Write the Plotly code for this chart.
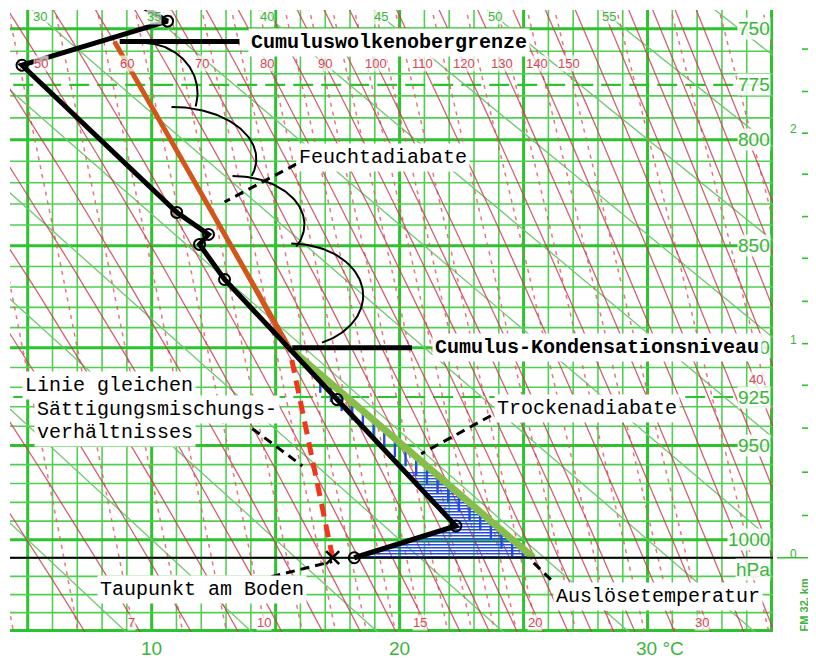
import numpy as np
import plotly.graph_objects as go

KAPPA = 0.286
P_TOP, P_BOT = 741.8, 1050.8
T_LEFT, T_RIGHT = 4.286, 35.06

# ---------------- data ----------------
sounding_T = [9.1, 10.64, 4.77, 11.01, 12.29, 11.93, 12.94, 15.55, 17.48, 22.27, 18.17]
sounding_p = [737.0, 746.7, 766.2, 834.0, 844.5, 849.3, 866.3, 900.0, 926.3, 992.6, 1009.8]
sounding_circle = [0, 1, 1, 1, 1, 1, 1, 0, 1, 1, 1]

ground_p = 1009.8
dewpoint_T = 17.3
ccl_T, ccl_p = 15.55, 900.0
cloudtop_T, cloudtop_p = 8.5, 755.7
trigger_T = 25.4

isotherms = list(range(5, 36))
isobars = list(range(750, 1051, 10))
isobars_dashed = [775, 925]
dry_adiabats = list(range(-5, 75, 5))                      # potential temperature, °C
moist_adiabats = list(range(20, 100, 5)) + list(range(100, 220, 10))  # theta_e, °C
mixing_ratios = [3, 4, 5, 6, 7, 8, 9, 10, 11, 12, 13, 14, 15, 16, 17, 18, 19, 20,
                 22, 24, 26, 28, 30, 35, 40, 45, 50, 55, 60]

p_labels = ["750", "775", "800", "850", "900", "925", "950", "1000"]
p_label_values = [750, 775, 800, 850, 900, 925, 950, 1000]
theta_labels = [30, 35, 40, 45, 50, 55]
thetae_labels = [50, 60, 70, 80, 90, 100, 110, 120, 130, 140, 150]
mix_labels_bottom = [7, 10, 15, 20, 30]
mix_label_right = 40
t_labels = ["10", "20", "30 °C"]
t_label_values = [10, 20, 30]

km_levels = [0, 0.2, 0.4, 0.6, 0.8, 1.0, 1.2, 1.4, 1.6, 1.8, 2.0, 2.2, 2.4, 2.6]
km_pressures = [1009.8, 987, 964, 941, 919, 898, 877, 856, 836, 816, 797, 778, 759, 741]
km_labelled = [0, 1, 2]


# ---------------- helpers ----------------
def Yv(p):
    return np.asarray(p, dtype=float) ** KAPPA


def es(T):
    return 6.112 * np.exp(17.67 * T / (T + 243.5))


def theta_e_sat(T, p):
    TK = T + 273.15
    e = es(T)
    r = 622.0 * e / (p - e)
    th = TK * (1000.0 / p) ** (0.2854 * (1 - 0.00028 * r))
    return th * np.exp((3.376 / TK - 0.00254) * r * (1 + 0.00081 * r))


def moist_T(thetae_C, p):
    target = thetae_C + 273.15
    p = np.asarray(p, dtype=float)
    lo = np.full_like(p, -40.0)
    hi = np.full_like(p, 48.0)
    for _ in range(45):
        mid = 0.5 * (lo + hi)
        f = theta_e_sat(mid, p) - target
        hi = np.where(f > 0, mid, hi)
        lo = np.where(f > 0, lo, mid)
    return 0.5 * (lo + hi)


def mixing_T(w, p):
    e = w * np.asarray(p, dtype=float) / (622.0 + w)
    L = np.log(e / 6.112)
    return 243.5 * L / (17.67 - L)


def dry_T(theta_C, p):
    return (theta_C + 273.15) * (np.asarray(p, dtype=float) / 1000.0) ** KAPPA - 273.15


def seg_trace(segments, color, width, dash=None, xaxis="x", opacity=1.0):
    xs, ys = [], []
    for x, y in segments:
        xs += list(x) + [None]
        ys += list(y) + [None]
    return go.Scatter(x=xs, y=ys, mode="lines", xaxis=xaxis, yaxis="y",
                      line=dict(color=color, width=width, dash=dash),
                      opacity=opacity, hoverinfo="skip", showlegend=False)


fig = go.Figure()
pg = np.linspace(725, 1065, 60)
Yfull = [Yv(725), Yv(1065)]

GREEN_THIN = "rgb(80,208,80)"
GREEN_THICK = "rgb(45,195,45)"
GREEN_TXT = "rgb(60,180,60)"
RED_SOLID = "rgb(200,60,80)"
RED_DASH = "rgb(228,95,110)"
RED_TXT = "rgb(215,70,85)"

# isotherms
thin_T = [t for t in isotherms if t % 5]
thick_T = [t for t in isotherms if t % 5 == 0]
fig.add_trace(seg_trace([([t, t], Yfull) for t in thin_T], GREEN_THIN, 1.6))
fig.add_trace(seg_trace([([t, t], Yfull) for t in thick_T], GREEN_THICK, 3))

# isobars
thin_p = [p for p in isobars if p % 50]
thick_p = [p for p in isobars if p % 50 == 0]
fig.add_trace(seg_trace([([T_LEFT - 1, T_RIGHT + 1], [Yv(p), Yv(p)]) for p in thin_p], GREEN_THIN, 1.6))
fig.add_trace(seg_trace([([T_LEFT - 1, T_RIGHT + 1], [Yv(p), Yv(p)]) for p in thick_p], GREEN_THICK, 3))
fig.add_trace(seg_trace([([T_LEFT - 1, T_RIGHT + 1], [Yv(p), Yv(p)]) for p in isobars_dashed],
                        GREEN_THICK, 2.2, dash="20px,8px"))

# dry adiabats
fig.add_trace(seg_trace([(dry_T(th, pg), Yv(pg)) for th in dry_adiabats], "rgb(110,200,110)", 1.3))

# mixing ratio lines
fig.add_trace(seg_trace([(mixing_T(w, pg), Yv(pg)) for w in mixing_ratios], RED_DASH, 1.5,
                        dash="4px,5px", opacity=0.85))

# moist adiabats
fig.add_trace(seg_trace([(moist_T(te, pg), Yv(pg)) for te in moist_adiabats], RED_SOLID, 1.3,
                        opacity=0.8))

# ---------------- hatching between sounding and dry adiabat ----------------
dYpx = (Yv(P_BOT) - Yv(P_TOP)) / 622.0
Yg0, Yg1 = float(Yv(ccl_p)), float(Yv(ground_p))


def green_Y(T):
    return Yg0 + (T - ccl_T) / (trigger_T - ccl_T) * (Yg1 - Yg0)


def green_T(Yq):
    return ccl_T + (Yq - Yg0) / (Yg1 - Yg0) * (trigger_T - ccl_T)


lowY = Yv(sounding_p[7:])
lowT = np.array(sounding_T[7:])

BLUE = "rgb(35,75,225)"
hsegs = []
Yq = Yg1 - 1.0 * dYpx
while Yq > Yg1 - 86 * dYpx:
    tl = float(np.interp(Yq, lowY, lowT))
    tr = green_T(Yq)
    if tr > tl:
        hsegs.append(([tl, tr], [Yq, Yq]))
    Yq -= 3.0 * dYpx
fig.add_trace(seg_trace(hsegs, BLUE, 1.3))

vsegs = []
for T in np.arange(16.8, trigger_T - 0.15, 0.43):
    y0 = green_Y(T) + 1.5 * dYpx
    y1 = min(y0 + 17 * dYpx, Yg1)
    if y1 > y0:
        vsegs.append(([T, T], [y0, y1]))
fig.add_trace(seg_trace(vsegs, BLUE, 2.4))

# ---------------- constructed lines ----------------
# saturation mixing ratio line from surface dew point to CCL
fig.add_trace(seg_trace([([dewpoint_T, ccl_T], [Yv(ground_p), Yv(ccl_p)])], "rgb(240,55,30)", 5,
                        dash="13px,8px"))
# dry adiabat from CCL down to ground
fig.add_trace(seg_trace([([ccl_T, trigger_T], [Yv(ccl_p), Yv(ground_p)])], "rgb(135,190,75)", 7))
# ground line
fig.add_trace(seg_trace([([T_LEFT - 1, T_RIGHT + 1], [Yv(ground_p), Yv(ground_p)])], "black", 2.2))
# moist adiabat in cloud (orange)
fig.add_trace(seg_trace([([ccl_T, cloudtop_T], [Yv(ccl_p), Yv(cloudtop_p)])], "rgb(210,85,25)", 5))

# sounding
fig.add_trace(go.Scatter(x=sounding_T, y=Yv(sounding_p), mode="lines",
                         line=dict(color="black", width=5), hoverinfo="skip", showlegend=False))
cT = [t for t, c in zip(sounding_T, sounding_circle) if c]
cP = [p for p, c in zip(sounding_p, sounding_circle) if c]
fig.add_trace(go.Scatter(x=cT, y=Yv(cP), mode="markers",
                         marker=dict(symbol="circle-open", size=11, color="black",
                                     line=dict(width=2, color="black")),
                         hoverinfo="skip", showlegend=False))
# dew point cross
fig.add_trace(go.Scatter(x=[dewpoint_T], y=Yv([ground_p]), mode="markers",
                         marker=dict(symbol="x-thin", size=13, line=dict(width=2.5, color="black")),
                         hoverinfo="skip", showlegend=False))

# cloud outline arcs (centre T, centre p, radius T, radius in y-units, end angle)
arcs = [(9.64, 778.7, 2.21, 0.056, 1.84),
        (10.8, 808.9, 3.42, 0.058, 1.90),
        (13.26, 839.7, 2.90, 0.054, 2.05),
        (15.63, 874.2, 2.90, 0.058, 2.70)]
arc_segs = []
for cx, cp, rx, ry, tend in arcs:
    t = np.linspace(0, tend, 60)
    arc_segs.append((cx + rx * np.sin(t), float(Yv(cp)) - ry * np.cos(t)))
fig.add_trace(seg_trace(arc_segs, "black", 2))

# black bars to the labels
fig.add_trace(seg_trace([([8.71, 13.54], [Yv(cloudtop_p), Yv(cloudtop_p)]),
                         ([15.67, 20.5], [Yv(ccl_p), Yv(ccl_p)])], "black", 5))

# dashed leader lines
leaders = [((15.83, 811.3), (12.94, 829.1)),
           ((14.06, 941.3), (16.08, 960.7)),
           ((23.68, 934.6), (20.87, 954.4)),
           ((14.83, 1020.1), (17.28, 1011.9)),
           ((25.41, 1012.6), (26.22, 1023.4))]
fig.add_trace(seg_trace([([a[0], b[0]], [Yv(a[1]), Yv(b[1])]) for a, b in leaders], "black", 3,
                        dash="9px,6px"))

# ---------------- km strip (second x axis) ----------------
km_segs = [([37, 37], [Yv(ground_p), Yv(730)])]
for h, p in zip(km_levels, km_pressures):
    x0 = 4 if h == 0 else 29
    km_segs.append(([x0, 37], [Yv(p), Yv(p)]))
fig.add_trace(seg_trace(km_segs, GREEN_THICK, 1.6, xaxis="x2"))

# ---------------- annotations ----------------
ann = []
MONO = "Liberation Mono"
SANS = "Liberation Sans"


def box(text, T, p, bold=False, xanchor="center", align="center"):
    if bold:
        text = "<b>" + text + "</b>"
    ann.append(dict(x=T, y=float(Yv(p)), xref="x", yref="y", text=text, showarrow=False,
                    xanchor=xanchor, yanchor="middle", align=align,
                    font=dict(family=MONO, size=20, color="black"),
                    bgcolor="white", borderpad=2))


# pressure labels (right side)
for txt, p in zip(p_labels, p_label_values):
    ann.append(dict(x=T_RIGHT, y=float(Yv(p)), xref="x", yref="y", text=txt, showarrow=False,
                    xanchor="right", yanchor="middle", xshift=-2,
                    font=dict(family=SANS, size=19, color=GREEN_TXT),
                    bgcolor="rgba(255,255,255,0.85)", borderpad=0))
ann.append(dict(x=T_RIGHT, y=float(Yv(1016)), xref="x", yref="y", text="hPa", showarrow=False,
                xanchor="right", yanchor="middle", xshift=-2,
                font=dict(family=SANS, size=19, color=GREEN_TXT),
                bgcolor="rgba(255,255,255,0.85)", borderpad=0))

# temperature labels (bottom)
for txt, t in zip(t_labels, t_label_values):
    if txt.startswith("30"):
        ann.append(dict(x=t - 0.56, y=0, xref="x", yref="paper", text=txt, showarrow=False,
                        xanchor="left", yanchor="middle", yshift=-16,
                        font=dict(family=SANS, size=19, color=GREEN_TXT)))
    else:
        ann.append(dict(x=t, y=0, xref="x", yref="paper", text=txt, showarrow=False,
                        xanchor="center", yanchor="middle", yshift=-16,
                        font=dict(family=SANS, size=19, color=GREEN_TXT)))

# potential temperature labels (top, green)
for th in theta_labels:
    ann.append(dict(x=float(dry_T(th, 744.6)), y=float(Yv(744.6)), xref="x", yref="y",
                    text=str(th), showarrow=False, xanchor="center", yanchor="middle",
                    font=dict(family=SANS, size=13, color=GREEN_TXT),
                    bgcolor="rgba(255,255,255,0.7)", borderpad=0))
# equivalent potential temperature labels (red)
for te in thetae_labels:
    ann.append(dict(x=float(moist_T(te, np.array([765.3]))[0]), y=float(Yv(765.3)), xref="x",
                    yref="y", text=str(te), showarrow=False, xanchor="center", yanchor="middle",
                    font=dict(family=SANS, size=13, color=RED_TXT),
                    bgcolor="rgba(255,255,255,0.7)", borderpad=0))
# mixing ratio labels
for w in mix_labels_bottom:
    ann.append(dict(x=float(mixing_T(w, 1045.3)), y=float(Yv(1045.3)), xref="x", yref="y",
                    text=str(w), showarrow=False, xanchor="center", yanchor="middle",
                    font=dict(family=SANS, size=13, color=RED_TXT),
                    bgcolor="rgba(255,255,255,0.7)", borderpad=0))
ann.append(dict(x=float(mixing_T(mix_label_right, 916)), y=float(Yv(916)), xref="x", yref="y",
                text=str(mix_label_right), showarrow=False, xanchor="right", yanchor="middle",
                font=dict(family=SANS, size=13, color=RED_TXT),
                bgcolor="rgba(255,255,255,0.7)", borderpad=0))

# text boxes
box("Cumuluswolkenobergrenze", 19.58, 756.2, bold=True)
box("Feuchtadiabate", 19.34, 808.0)
box("Cumulus-Kondensationsniveau", 27.95, 900.0, bold=True)
box("Linie gleichen", 4.75, 919.2, xanchor="left", align="left")
box("Sättigungsmischungs-", 5.27, 931.4, xanchor="left", align="left")
box("verhältnisses", 5.27, 943.3, xanchor="left", align="left")
box("Trockenadiabate", 27.55, 930.9)
box("Taupunkt am Boden", 12.01, 1027.0)
box("Auslösetemperatur", 30.44, 1030.9)

# km strip labels
for h in km_labelled:
    p = float(np.interp(h, km_levels, km_pressures))
    ann.append(dict(x=20, y=float(Yv(p)), xref="x2", yref="y", text=str(h), showarrow=False,
                    xanchor="center", yanchor="middle", yshift=4,
                    font=dict(family=SANS, size=12, color=GREEN_TXT)))
ann.append(dict(x=31, y=float(Yv(1036)), xref="x2", yref="y", text="<b>FM 32, km</b>",
                showarrow=False, textangle=-90, xanchor="center", yanchor="middle",
                font=dict(family=SANS, size=11, color=GREEN_TXT)))

# The page body adds an 8 px offset; the figure is sized so the plot lands where the reference has it.
split = 763.0 / 806.0
fig.update_layout(
    width=808, height=650,
    margin=dict(l=2, r=0, t=2, b=26),
    paper_bgcolor="white", plot_bgcolor="white",
    showlegend=False,
    annotations=ann,
    xaxis=dict(domain=[0, split], range=[T_LEFT, T_RIGHT], showgrid=False, zeroline=False,
               showticklabels=False, ticks="", showline=False, fixedrange=True),
    xaxis2=dict(domain=[split, 1], range=[0, 43], anchor="y", showgrid=False, zeroline=False,
                showticklabels=False, ticks="", showline=False, fixedrange=True),
    yaxis=dict(range=[float(Yv(P_BOT)), float(Yv(P_TOP))], showgrid=False, zeroline=False,
               showticklabels=False, ticks="", showline=False, fixedrange=True),
)

fig.write_html("out.html")
